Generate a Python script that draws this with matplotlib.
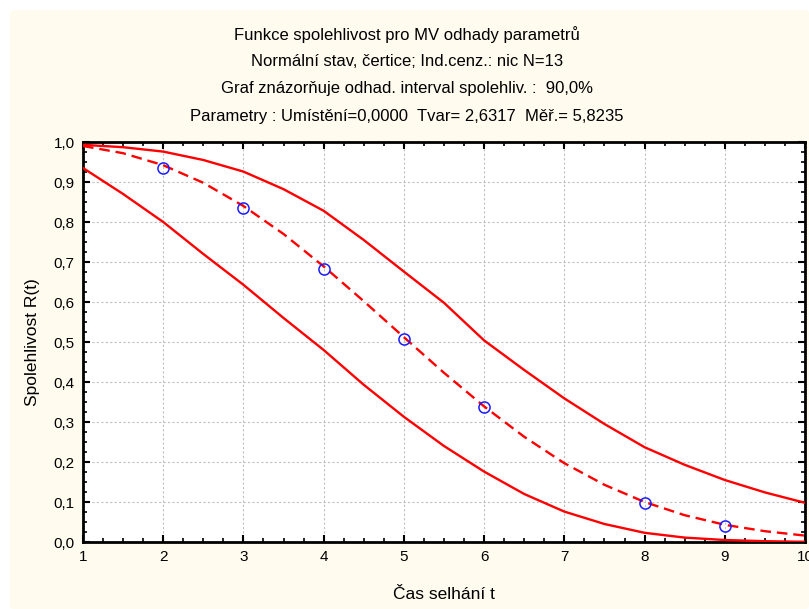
import matplotlib.pyplot as plt
from matplotlib.patches import FancyBboxPatch
from matplotlib.ticker import MultipleLocator, FuncFormatter

plt.rcParams['font.family'] = ['Liberation Sans', 'DejaVu Sans']

# estimate (dashed) and 90% confidence bounds
t = [1.0, 1.5, 2.0, 2.5, 3.0, 3.5, 4.0, 4.5, 5.0, 5.5,
     6.0, 6.5, 7.0, 7.5, 8.0, 8.5, 9.0, 9.5, 10.0]
r_est = [0.990, 0.972, 0.942, 0.898, 0.840, 0.770, 0.689, 0.602, 0.512, 0.423,
         0.339, 0.263, 0.197, 0.143, 0.100, 0.067, 0.043, 0.027, 0.016]
r_upper = [0.993, 0.987, 0.976, 0.955, 0.926, 0.882, 0.828, 0.755, 0.676, 0.598,
           0.504, 0.430, 0.359, 0.295, 0.237, 0.193, 0.155, 0.124, 0.098]
r_lower = [0.935, 0.870, 0.800, 0.720, 0.643, 0.560, 0.480, 0.393, 0.313, 0.240,
           0.176, 0.120, 0.076, 0.045, 0.023, 0.011, 0.005, 0.002, 0.0005]

# observed failure times
obs_t = [2, 3, 4, 5, 6, 8, 9]
obs_r = [0.934, 0.836, 0.683, 0.507, 0.338, 0.098, 0.040]

title_lines = [
    "Funkce spolehlivost pro MV odhady parametrů",
    "Normální stav, čertice; Ind.cenz.: nic N=13",
    "Graf znázorňuje odhad. interval spolehliv. :  90,0%",
    "Parametry : Umístění=0,0000  Tvar= 2,6317  Měř.= 5,8235",
]

fig = plt.figure(figsize=(8.09, 6.09), dpi=100)
fig.patch.set_facecolor('white')
bg = FancyBboxPatch((10 / 809, 0), 1 - 10 / 809, 1 - 10 / 609,
                    boxstyle="round,pad=0,rounding_size=0.006",
                    transform=fig.transFigure, facecolor='#fffbef',
                    edgecolor='none', zorder=-10)
fig.patches.append(bg)

ax = fig.add_axes([83 / 809, 1 - 542 / 609, 722 / 809, 400 / 609])
ax.set_facecolor('white')

ax.plot(t, r_upper, color='#ff0000', lw=1.7, zorder=3)
ax.plot(t, r_lower, color='#ff0000', lw=1.7, zorder=3)
ax.plot(t, r_est, color='#ff0000', lw=1.7, ls=(0, (4.5, 2.5)), zorder=3)
ax.plot(obs_t, obs_r, 'o', mfc='none', mec='#1a1aff', ms=8, mew=1.1, zorder=4)

ax.set_xlim(1, 10)
ax.set_ylim(0, 1)
ax.xaxis.set_major_locator(MultipleLocator(1))
ax.xaxis.set_minor_locator(MultipleLocator(0.25))
ax.yaxis.set_major_locator(MultipleLocator(0.1))
ax.yaxis.set_minor_locator(MultipleLocator(0.025))
ax.yaxis.set_major_formatter(FuncFormatter(lambda v, p: f"{v:.1f}".replace('.', ',')))
ax.tick_params(which='both', direction='in', top=True, right=True,
               labelsize=11, color='black')
ax.tick_params(which='major', length=5, width=1.5, pad=6)
ax.tick_params(which='minor', length=3, width=1.2)
for s in ax.spines.values():
    s.set_linewidth(2)

ax.grid(True, which='major', color='#c0c0c0', ls=(0, (2, 2)), lw=0.8)
ax.set_axisbelow(True)

ax.set_xlabel("Čas selhání t", fontsize=12.5, labelpad=16)
ax.set_ylabel("Spolehlivost R(t)", fontsize=12.5, labelpad=10)

for i, line in enumerate(title_lines):
    fig.text(407 / 809, 1 - (35 + 27 * i) / 609, line, ha='center',
             va='center', fontsize=12)

fig.savefig("out.png", dpi=100)
